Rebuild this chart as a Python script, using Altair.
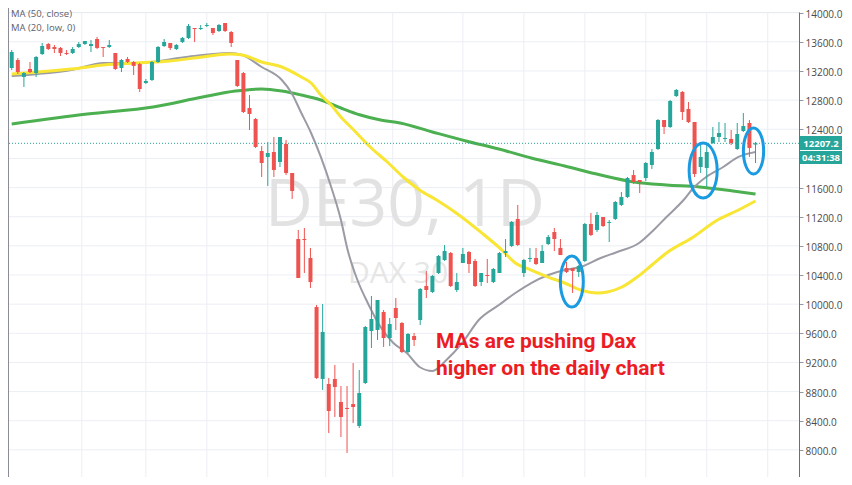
import altair as alt
import pandas as pd

# ---------------- data ----------------
opens = [13241, 13351, 13118, 13227, 13172, 13433, 13570, 13529, 13516, 13447,
         13447, 13529, 13570, 13543, 13639, 13529, 13529, 13447, 13241, 13365,
         13323, 13296, 13035, 13076, 13323, 13543, 13584, 13502, 13598, 13653,
         13790, 13776, 13818, 13790, 13749, 13859, 13735, 13351, 13172, 12692,
         12541, 12102, 12020, 12088, 11951, 12198, 11800, 10894, 10894, 10633,
         9961, 8973, 8904, 8973, 8657, 8575, 8629, 8328, 8918, 9631,
         9645, 9892, 9535, 9947, 9741, 9343, 9563, 9782, 10249, 10167,
         10427, 10606, 10702, 10194, 10565, 10716, 10592, 10304, 10400, 10304,
         10427, 10702, 10798, 11169, 10427, 10620, 10633, 10565, 10825, 10990,
         10771, 10496, 10496, 10441, 10592, 11100, 11018, 11196, 11114, 11169,
         11361, 11470, 11772, 11704, 11731, 11910, 12129, 12527, 12431, 12857,
         12912, 12678, 12500, 11882, 11869, 12212, 12294, 12267, 12267, 12129,
         12376, 12486, 12190]
highs = [13488, 13378, 13186, 13323, 13406, 13584, 13584, 13557, 13529, 13488,
         13529, 13598, 13612, 13625, 13667, 13529, 13625, 13447, 13365, 13392,
         13337, 13310, 13090, 13337, 13543, 13639, 13584, 13570, 13667, 13845,
         13790, 13831, 13859, 13790, 13845, 13859, 13749, 13351, 13186, 12870,
         12555, 12170, 12225, 12294, 12294, 12253, 11800, 11018, 11045, 10771,
         9988, 10002, 8986, 9165, 8877, 8877, 9192, 9096, 9700, 10112,
         10057, 9920, 9810, 10084, 9755, 9604, 9604, 10221, 10455, 10400,
         10674, 10812, 10716, 10427, 10771, 10729, 10620, 10427, 10620, 10496,
         10716, 10894, 11141, 11361, 10620, 10771, 10771, 10812, 10949, 11045,
         10894, 10578, 10496, 10537, 11114, 11251, 11265, 11196, 11155, 11416,
         11539, 11745, 11841, 11704, 11951, 12129, 12541, 12527, 12802, 12953,
         12925, 12774, 12500, 12184, 12212, 12431, 12500, 12486, 12390, 12486,
         12623, 12527, 12225]
lows = [13214, 13159, 12980, 13172, 13118, 13419, 13488, 13447, 13406, 13419,
        13433, 13516, 13557, 13461, 13502, 13392, 13516, 13214, 13186, 13310,
        13145, 12912, 13021, 13063, 13310, 13529, 13488, 13488, 13584, 13639,
        13598, 13763, 13804, 13694, 13735, 13735, 13529, 12980, 12623, 12390,
        12143, 11745, 11622, 11745, 11882, 11772, 11443, 10359, 10427, 10222,
        8973, 8822, 8231, 8451, 8176, 7957, 8369, 8300, 8904, 9398,
        9508, 9412, 9425, 9645, 9329, 9329, 9425, 9714, 10084, 10153,
        10414, 10592, 10235, 10167, 10565, 10427, 10235, 10249, 10290, 10290,
        10427, 10647, 10784, 10798, 10373, 10578, 10537, 10565, 10812, 10729,
        10674, 10427, 10153, 10373, 10578, 10935, 10990, 11059, 10853, 11155,
        11347, 11457, 11649, 11525, 11690, 11855, 12116, 12335, 12418, 12843,
        12527, 12486, 11745, 11800, 11608, 12198, 12225, 12225, 12184, 12116,
        12363, 12020, 11937]
closes = [13461, 13186, 13172, 13186, 13392, 13543, 13502, 13502, 13447, 13433,
          13502, 13570, 13612, 13570, 13516, 13516, 13557, 13227, 13351, 13323,
          13269, 12953, 13063, 13323, 13529, 13598, 13516, 13557, 13653, 13818,
          13776, 13790, 13831, 13721, 13831, 13749, 13584, 12994, 12637, 12610,
          12157, 11937, 12074, 11841, 12294, 11800, 11553, 10359, 10880, 10304,
          8986, 9618, 8533, 8863, 8451, 8561, 8588, 8780, 9686, 9796,
          10057, 9535, 9727, 9810, 9343, 9590, 9508, 10208, 10194, 10386,
          10661, 10729, 10249, 10304, 10688, 10551, 10249, 10427, 10386, 10482,
          10702, 10729, 11127, 10812, 10606, 10633, 10551, 10729, 10922, 10894,
          10674, 10441, 10455, 10523, 11100, 10949, 11223, 11072, 11127, 11402,
          11470, 11731, 11676, 11676, 11937, 12088, 12527, 12431, 12788, 12939,
          12637, 12500, 11786, 12020, 12088, 12294, 12349, 12280, 12212, 12335,
          12445, 12143, 12207.2]

# MA (50, close) - yellow
ma50_i = [1, 5.3, 10.8, 16.1, 21.5, 27, 32.3, 36.7, 38.8, 42, 45.3, 48.5, 50.1, 51.7,
          53.4, 55, 57.1, 59.8, 62.6, 65.2, 67.9, 70.7, 73.9, 78.1, 81.4, 83.6, 86.2,
          89, 91.7, 94.3, 97.1, 98.7, 101.1, 103.6, 106, 108.4, 112.8, 116.5, 120.2, 123]
ma50_v = [13159, 13186, 13227, 13282, 13310, 13337, 13392, 13433, 13419, 13323, 13255,
          13118, 13035, 12870, 12733, 12568, 12390, 12157, 11951, 11745, 11567, 11429,
          11251, 10977, 10743, 10565, 10468, 10372, 10290, 10194, 10153, 10167, 10235,
          10372, 10537, 10702, 10922, 11141, 11292, 11416]
# MA (20, low, 0) - gray
ma20_i = [1, 5.3, 10.8, 16.1, 21.5, 29.6, 36.7, 38.8, 42, 45.3, 46.9, 48.5, 50.1, 51.7,
          53.4, 55, 56.1, 57.7, 59.4, 61.5, 63.6, 65.8, 67.9, 70, 72.3, 74.9, 77.6,
          80.9, 83.6, 86.2, 89, 91.7, 94.3, 97.6, 100.3, 103.9, 106.3, 108.4, 111.2,
          112.8, 114.9, 117.7, 120.2, 123]
ma20_v = [13131, 13159, 13214, 13310, 13310, 13392, 13447, 13419, 13255, 13076, 12898,
          12623, 12349, 12020, 11608, 11155, 10743, 10331, 10016, 9686, 9467, 9329,
          9137, 9082, 9233, 9467, 9782, 9988, 10153, 10290, 10400, 10469, 10510, 10633,
          10716, 10839, 11018, 11196, 11429, 11594, 11745, 11882, 12020, 12088]
# long MA - green
mag_i = [1, 13.4, 24.2, 32.3, 37.7, 42, 45.3, 48.5, 51.7, 55, 58.2, 61.5, 64.7, 70,
         75.5, 80.9, 86.2, 91.7, 97.6, 103.1, 108.4, 113.8, 119.3, 123]
mag_v = [12472, 12610, 12706, 12843, 12925, 12953, 12925, 12870, 12802, 12692, 12596,
         12527, 12486, 12363, 12239, 12129, 12006, 11896, 11772, 11676, 11635, 11608,
         11553, 11512]

y_ticks = [8000, 8400, 8800, 9200, 9600, 10000, 10400, 10800, 11200, 11600,
           12400, 12800, 13200, 13600, 14000]
y_grid = [8000, 8400, 8800, 9200, 9600, 10000, 10400, 10800, 11200, 11600,
          12000, 12400, 12800, 13200, 13600, 14000]
x_grid = [12.5, 23, 33, 43, 52.5, 63.5, 75, 85, 95, 105, 115, 125]

# circled areas (centre candle position, centre price)
ell_i = [92.87, 114.41, 122.67]
ell_p = [10311, 11834, 12102]

legend_lines = ["MA (50, close)", "MA (20, low, 0)"]
watermark = "DE30, 1D"
sub_watermark = "DAX 30"
note = "MAs are pushing Dax\nhigher on the daily chart"
timer = "04:31:38"

# ---------------- chart ----------------
GREEN = "#26a69a"
RED = "#ef5350"
TOP = 4
W, H = 791, 465

n = len(opens)
candles = pd.DataFrame({"i": list(range(1, n + 1)), "o": opens, "h": highs,
                        "l": lows, "c": closes})
candles["dir"] = ["up" if c >= o else "down" for o, c in zip(opens, closes)]

xs = alt.Scale(domain=[1.2105, 129.31], nice=False, zero=False)
ys = alt.Scale(domain=[7627.5, 14009.6], nice=False, zero=False)
yaxis = alt.Axis(orient="right", values=y_ticks, format=".1f", grid=False,
                 labelFont="Open Sans", labelFontSize=10, labelColor="#4a4a4a",
                 tickColor="#9598a1", tickSize=4, domainColor="#6b6e78",
                 labelPadding=2, labelOffset=1.5, title=None)


def X(f):
    return alt.X(f, scale=xs, axis=None)


def Y(f):
    return alt.Y(f, scale=ys, axis=yaxis)


def py(page_y):
    # page pixel row -> chart row
    return page_y - 8 - TOP


col = alt.Color("dir:N", scale=alt.Scale(domain=["up", "down"], range=[GREEN, RED]),
                legend=None)

hgrid = alt.Chart(pd.DataFrame({"v": y_grid})).mark_rule(
    color="#ebeef4", strokeWidth=1, clip=True).encode(y=Y("v:Q"))
vgrid = alt.Chart(pd.DataFrame({"g": x_grid})).mark_rule(
    color="#ebeef4", strokeWidth=1, clip=True).encode(x=X("g:Q"))
one = pd.DataFrame({"t": [watermark]})
left_border = alt.Chart(one).mark_rule(color="#8a8d96", strokeWidth=1).encode(
    x=alt.value(0.5), y=alt.value(-TOP), y2=alt.value(H))

wm1 = alt.Chart(pd.DataFrame({"t": [watermark]})).mark_text(
    font="Open Sans", fontSize=66, color="#e2e2e2", align="left",
    baseline="alphabetic").encode(text="t:N", x=alt.value(257), y=alt.value(py(226)))
wm2 = alt.Chart(pd.DataFrame({"t": [sub_watermark]})).mark_text(
    font="Open Sans", fontSize=30, color="#e6e6e6", align="left",
    baseline="alphabetic").encode(text="t:N", x=alt.value(340), y=alt.value(py(283)))


def ma_line(ii, vv, color, w):
    df = pd.DataFrame({"i": ii, "v": vv})
    return alt.Chart(df).mark_line(color=color, strokeWidth=w, interpolate="monotone",
                                   clip=True).encode(x=X("i:Q"), y=Y("v:Q"))


green_ma = ma_line(mag_i, mag_v, "#4caf50", 3)
gray_ma = ma_line(ma20_i, ma20_v, "#9a9ba4", 2)
yellow_ma = ma_line(ma50_i, ma50_v, "#f8e534", 3)

wicks = alt.Chart(candles).mark_rule(strokeWidth=1, clip=True).encode(
    x=X("i:Q"), y=Y("l:Q"), y2="h:Q", color=col)
bodies = alt.Chart(candles).mark_bar(width=4, clip=True).encode(
    x=X("i:Q"), y=Y("o:Q"), y2="c:Q", color=col)

last = candles.tail(1)
price_line = alt.Chart(last).mark_rule(color=GREEN, strokeDash=[1, 2],
                                       strokeWidth=1).encode(y=Y("c:Q"))

k = 0.5523


def ell_path(a):
    return (f"M 0 -1 C {k*a:.4f} -1 {a:.4f} {-k:.4f} {a:.4f} 0 "
            f"C {a:.4f} {k:.4f} {k*a:.4f} 1 0 1 "
            f"C {-k*a:.4f} 1 {-a:.4f} {k:.4f} {-a:.4f} 0 "
            f"C {-a:.4f} {-k:.4f} {-k*a:.4f} -1 0 -1 Z")


ell_style = [(0.45, 25.5), (0.51, 27.5), (0.44, 23.0)]
ellipses = []
for j, (a, ry) in enumerate(ell_style):
    df = pd.DataFrame({"i": [ell_i[j]], "p": [ell_p[j]]})
    ellipses.append(alt.Chart(df).mark_point(
        shape=ell_path(a), size=(2 * ry) ** 2, filled=False, stroke="#1a9ae0",
        strokeWidth=3, opacity=1).encode(x=X("i:Q"), y=Y("p:Q")))

note_txt = alt.Chart(pd.DataFrame({"t": [note]})).mark_text(
    font="Roboto", fontSize=21, fontWeight="bold", color="#ec1c24", align="left",
    baseline="alphabetic", lineBreak="\n", lineHeight=27).encode(
    text="t:N", x=alt.value(428), y=alt.value(py(348)))

BX0, BX1 = 792, 834
box1 = alt.Chart(last).mark_rect(color=GREEN).encode(
    x=alt.value(BX0), x2=alt.value(BX1), y=alt.value(py(136)), y2=alt.value(py(150)))
box2 = alt.Chart(last).mark_rect(color=GREEN).encode(
    x=alt.value(BX0), x2=alt.value(BX1), y=alt.value(py(151)), y2=alt.value(py(164)))
box1_txt = alt.Chart(last).mark_text(
    font="Open Sans", fontSize=9.5, fontWeight="bold", color="white",
    align="center", baseline="middle").encode(
    text=alt.Text("c:Q", format=".1f"), x=alt.value((BX0 + BX1) / 2),
    y=alt.value(py(144.3)))
box2_txt = alt.Chart(pd.DataFrame({"t": [timer]})).mark_text(
    font="Open Sans", fontSize=9.5, fontWeight="bold", color="white",
    align="center", baseline="middle").encode(
    text="t:N", x=alt.value((BX0 + BX1) / 2), y=alt.value(py(157.8)))

leg1 = alt.Chart(pd.DataFrame({"t": [legend_lines[0]]})).mark_text(
    font="Open Sans", fontSize=9.5, color="#5d606b", align="left",
    baseline="alphabetic").encode(text="t:N", x=alt.value(3), y=alt.value(py(17)))
leg2 = alt.Chart(pd.DataFrame({"t": [legend_lines[1]]})).mark_text(
    font="Open Sans", fontSize=9.5, color="#5d606b", align="left",
    baseline="alphabetic").encode(text="t:N", x=alt.value(3), y=alt.value(py(31)))

chart = alt.layer(
    hgrid, vgrid, left_border, wm1, wm2, green_ma, gray_ma, yellow_ma,
    price_line, wicks, bodies, *ellipses, note_txt, box1, box2, box1_txt,
    box2_txt, leg1, leg2
).properties(
    width=W, height=H,
    autosize=alt.AutoSizeParams(type="none"),
    padding={"left": 0, "top": TOP, "right": 45, "bottom": 0},
).configure_view(stroke=None).configure(background="white")

chart.save("out.html", embed_options={"renderer": "svg", "actions": False})
